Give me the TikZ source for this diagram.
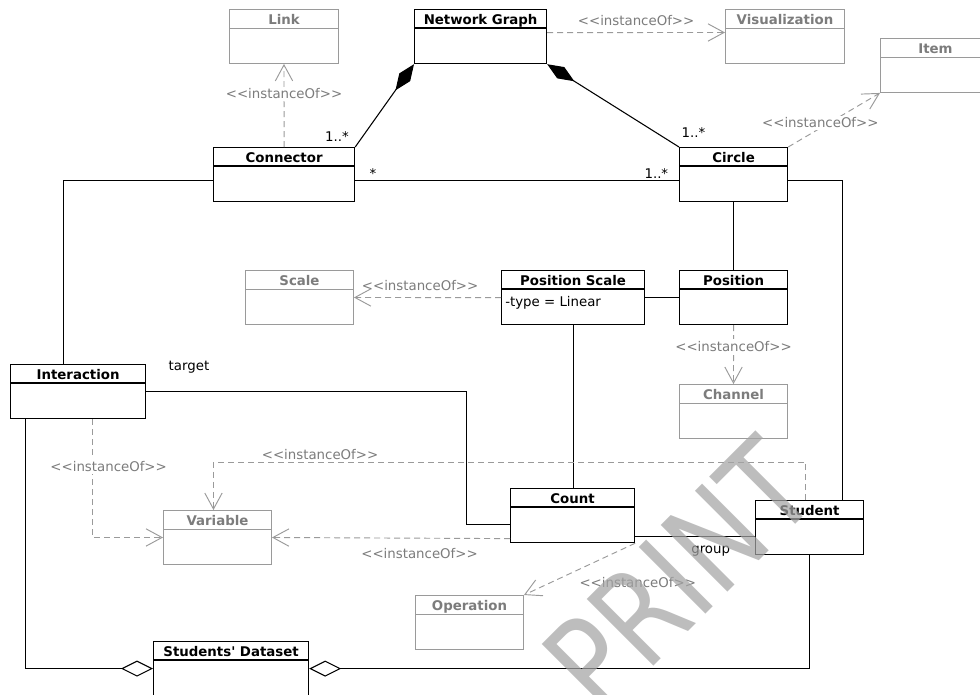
\documentclass[tikz,border=0pt]{standalone}
\usepackage{fontspec}
\setmainfont{DejaVu Sans}
\usetikzlibrary{arrows.meta,positioning}
\definecolor{ghostline}{HTML}{9A9A9A}
\definecolor{ghosttext}{HTML}{7C7C7C}
\definecolor{wmgray}{HTML}{A4A4A4}

\tikzset{
  cls/.style={draw, line width=0.9pt, anchor=north west, minimum height=40.5pt, inner sep=0pt},
  ghost/.style={draw=ghostline, text=ghosttext, line width=0.7pt},
  clstitle/.style={font=\bfseries, inner sep=0pt, anchor=base},
  lbl/.style={inner sep=1.5pt},
  ilbl/.style={lbl, text=ghosttext},
  assoc/.style={line width=0.8pt},
  inst/.style={ghostline, line width=0.7pt, dash pattern=on 4.5pt off 3pt, -{Straight Barb[length=12pt,width=13pt]}},
  comp/.style={assoc, {Diamond[length=24pt,width=10pt]}-},
  agg/.style={assoc, -{Diamond[open,length=24pt,width=12pt]}},
  wmark/.style={text=wmgray, opacity=0.72, font=\fontsize{97}{97}\selectfont, anchor=base, inner sep=0pt, rotate=45, xscale=0.82}
}

\newcommand{\umlclass}[5][]{%
  \node[cls, minimum width=#4*0.75pt, #1] (#2) at #3 {};
  \node[clstitle, #1, draw=none] (#2-name) at ([yshift=-11.25pt]#2.north) {#5};
  \draw[line width=0.9pt, #1] ([yshift=-14.25pt]#2.north west) -- ([yshift=-14.25pt]#2.north east);
}
\newcommand{\iof}{<{}<instanceOf>{}>}

\begin{document}
\begin{tikzpicture}[x=0.75pt,y=-0.75pt]
  \path[use as bounding box, fill=white] (0,0) rectangle (980,694);

  \umlclass[ghost]{link}{(229,9)}{109}{Link}
  \umlclass{ng}{(414,9)}{132}{Network Graph}
  \umlclass[ghost]{vis}{(725,9)}{119}{Visualization}
  \umlclass[ghost]{item}{(880,38)}{110}{Item}
  \umlclass{con}{(213,147)}{141}{Connector}
  \umlclass{cir}{(679,147)}{108}{Circle}
  \umlclass[ghost]{scale}{(245,270)}{108}{Scale}
  \umlclass{ps}{(501,270)}{143}{Position Scale}
  \node[lbl, inner sep=0pt, anchor=base west] (ps-attr) at ([xshift=3pt,yshift=-27pt]ps.north west) {-type = Linear};
  \umlclass{pos}{(679,270)}{108}{Position}
  \umlclass[ghost]{chan}{(679,384)}{108}{Channel}
  \umlclass{inter}{(10,364)}{135}{Interaction}
  \umlclass[ghost]{var}{(163,510)}{108}{Variable}
  \umlclass{count}{(510,488)}{124}{Count}
  \umlclass{stu}{(755,500)}{108}{Student}
  \umlclass[ghost]{op}{(415,595)}{108}{Operation}
  \umlclass{ds}{(153,641)}{155}{Students\textquotesingle{} Dataset}

  \draw[inst] (con.north) -- node[ilbl, fill=white, pos=0.64]{\iof} (link.south);
  \draw[inst] ([yshift=3pt]ng.east) -- node[ilbl, above, yshift=3pt]{\iof} ([yshift=3pt]vis.west);
  \draw[comp] (ng.south west) -- (con.north east) node[lbl, above left, xshift=-3pt, yshift=2pt]{1..*};
  \draw[comp] (ng.south east) -- (cir.north west) node[lbl, above right, yshift=5pt]{1..*};
  \draw[inst] (cir.north east) -- node[ilbl, fill=white, pos=0.35, yshift=4pt]{\iof} (item.south west);
  \draw[assoc] ([yshift=-4.5pt]con.east) -- node[lbl, pos=0.055, above]{*}
    node[lbl, pos=0.93, above]{1..*} ([yshift=-4.5pt]cir.west);
  \draw[assoc] ([yshift=-4.5pt]con.west) -| ([xshift=-10.9pt]inter.north);
  \draw[assoc] ([yshift=-4.5pt]cir.east) -| ([xshift=24.75pt]stu.north);
  \draw[assoc] (cir.south) -- (pos.north);
  \draw[assoc] (ps.east) -- (pos.west);
  \draw[inst] (ps.west) -- node[ilbl, above, pos=0.55, yshift=3pt]{\iof} (scale.east);
  \draw[inst] (pos.south) -- node[ilbl, fill=white, pos=0.36]{\iof} (chan.north);
  \draw[assoc] (ps.south) -- (ps.south |- count.north);
  \draw[assoc] (inter.east) node[lbl, anchor=south west, xshift=15pt, yshift=12pt]{target}
    -- ++(320,0) |- ([yshift=-6.75pt]count.west);
  \draw[inst] ([xshift=10.9pt]inter.south) |- node[ilbl, fill=white, pos=0.2, xshift=12pt]{\iof} (var.west);
  \draw[inst] ([xshift=-3pt]stu.north) -- ++(0,-38) -| node[ilbl, pos=0.41, above]{\iof} ([xshift=-3pt]var.north);
  \draw[inst] ([yshift=-17.25pt]count.west) -- node[ilbl, pos=0.38, below=6pt]{\iof} (var.east);
  \draw[assoc] ([yshift=-15.75pt]count.east) -- node[lbl, pos=0.63, below=5pt]{group} ([yshift=-6.75pt]stu.west);
  \draw[inst] (count.south east) -- node[ilbl, pos=0.75, anchor=west, xshift=19pt]{\iof} (op.north east);
  \draw[agg] ([xshift=-39.4pt]inter.south) |- (ds.west);
  \draw[agg] (stu.south) |- (ds.east);

  \node[wmark] (wm) at (712,608) {PRINT};
\end{tikzpicture}
\end{document}
